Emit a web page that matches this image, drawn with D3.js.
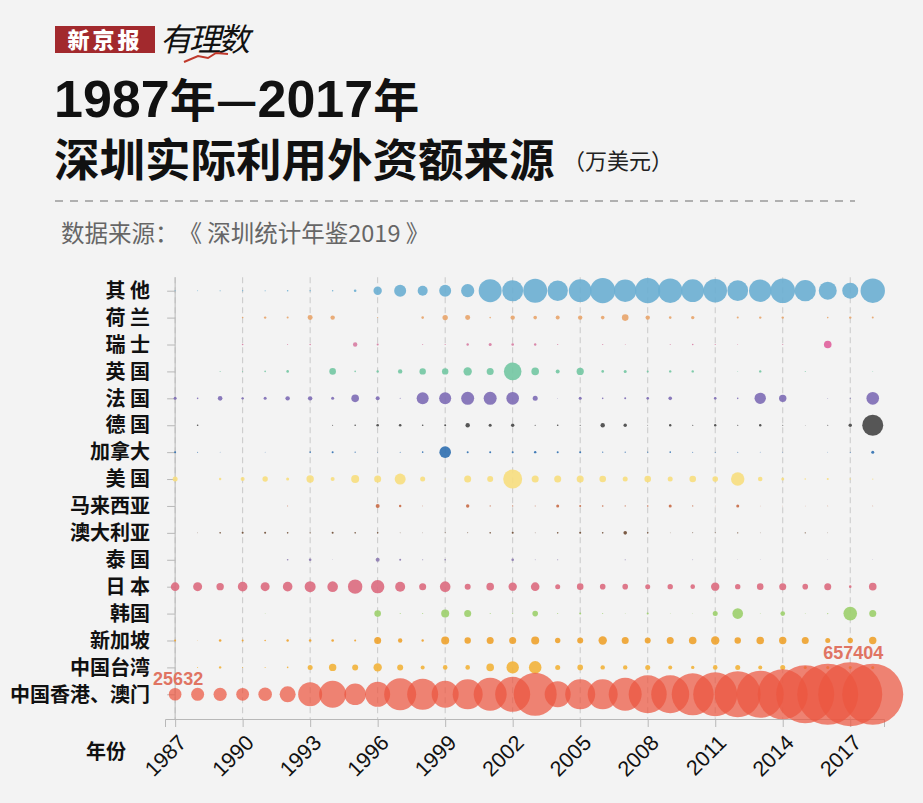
<!DOCTYPE html>
<html><head><meta charset="utf-8">
<script src="https://cdn.jsdelivr.net/npm/d3@7"></script>
<style>body{margin:0;background:#f3f3f3;} svg{display:block;} text{text-spacing-trim:space-all;}</style>
</head><body>
<script>
// ---------- DATA ----------
const years = [1987,1988,1989,1990,1991,1992,1993,1994,1995,1996,1997,1998,1999,2000,2001,2002,2003,2004,2005,2006,2007,2008,2009,2010,2011,2012,2013,2014,2015,2016,2017,2018];
const tickYears = [1987,1990,1993,1996,1999,2002,2005,2008,2011,2014,2017];
const categories = ["其 他","荷 兰","瑞 士","英 国","法 国","德 国","加拿大","美 国","马来西亚","澳大利亚","泰 国","日 本","韩国","新加坡","中国台湾","中国香港、澳门"];
const colors = ["#6aaed2","#e8a46a","#d77ca2","#72c6a2","#7d6bb5","#454545","#2f6fb0","#f7de7e","#c86a45","#6e4a32","#8c7ab0","#dc6a7e","#9ccf6c","#eea22c","#f2b23a","#ec5640"];
const vOther    = [200,150,200,250,200,400,300,350,1100,11300,23100,16100,23100,28000,84900,70800,92400,66800,83400,101900,80500,101900,95600,83400,89400,69400,80500,97100,72100,52000,41100,95600];
const vNL       = [0,0,0,410,920,640,4000,3100,0,160,0,1080,4680,4000,410,3100,2080,2570,3100,2080,7000,3100,1080,1860,0,640,920,920,0,410,920,640];
const vCH       = [0,0,0,410,0,160,410,0,3100,640,0,160,230,920,1445,1085,920,230,0,230,100,0,160,410,230,100,0,230,0,9270,0,0];
const vUK       = [0,0,160,160,410,1085,0,6990,410,924,3107,6574,6574,11325,7865,49720,9270,2568,8320,1085,1445,642,924,924,0,103,924,0,160,0,0,103];
const vFR       = [1445,411,3396,924,1445,3107,3107,1445,9270,2568,160,23110,23110,27120,27120,25480,4013,58,1445,411,642,1085,2080,0,1085,411,20860,8789,0,103,231,25480];
const vDE       = [0,411,0,0,0,0,0,160,411,1085,1085,411,642,3107,1445,1855,231,411,231,3107,1855,103,924,231,924,231,924,160,58,160,1855,70780];
const vCA       = [642,160,58,0,58,0,411,642,231,103,160,411,21600,642,642,642,924,642,642,231,231,231,411,160,160,160,103,103,0,58,160,1445];
const vUS       = [4013,0,924,2568,4680,1445,8789,2568,10272,7865,19420,4013,160,7865,5778,57940,7865,7865,7865,6991,4013,6991,4013,6991,5033,28820,3396,1445,411,642,411,231];
const vMY       = [0,0,0,0,0,160,0,0,0,2568,924,103,0,1855,231,231,160,1445,642,411,231,411,1445,231,58,1445,58,58,58,103,0,103];
const vAU       = [0,58,411,642,642,411,231,642,411,411,103,58,160,160,411,642,103,411,642,411,2080,411,58,160,160,231,58,0,231,58,0,0];
const vTH       = [0,0,0,0,0,411,1085,58,0,2568,642,160,411,0,0,1085,103,160,0,0,160,0,0,103,58,58,58,0,0,58,0,58];
const vJP       = [11870,13000,8789,14790,13000,14790,19420,18030,33280,28820,16050,7865,18030,5778,9270,11325,11870,4013,6991,5033,5033,4013,4680,3396,11325,4680,6991,7865,5033,7865,1085,9270];
const vKR       = [0,0,0,0,58,0,0,0,0,6991,160,160,10272,7865,160,160,5033,160,642,160,58,642,58,58,4013,18030,103,3396,103,231,29690,7865];
const vSG       = [642,58,1085,642,411,924,1085,1085,642,7865,3107,924,10272,6574,7865,7865,10272,4680,5778,11325,7865,5778,7865,9270,11325,6574,9270,8789,7865,4013,4680,8789];
const vTW       = [0,160,924,160,160,411,4013,8789,5778,11325,5778,2568,3396,3396,9270,24680,25480,4013,5033,3107,3107,4013,2568,1855,3396,4013,2568,4013,1445,1445,1445,1445];
const vHK       = [25632,27100,28000,26300,29700,41100,92400,117000,74900,100300,164300,154200,117000,144500,174800,196600,296800,108500,144500,144500,174800,231800,231800,283100,310700,339600,354500,401300,539900,597200,657404,597200];
const seriesValues = [vOther,vNL,vCH,vUK,vFR,vDE,vCA,vUS,vMY,vAU,vTH,vJP,vKR,vSG,vTW,vHK];
const labelled = [{cat:15, year:1987}, {cat:15, year:2017}];

// ---------- CHART ----------
const W = 923, H = 803;
const svg = d3.select("body").append("svg").attr("width", W).attr("height", H);
svg.append("rect").attr("width", W).attr("height", H).attr("fill", "#f3f3f3");

const CJK = "'Noto Sans CJK SC','Noto Sans',sans-serif";
const LAT = "'Liberation Sans',Arial,'Noto Sans CJK SC',sans-serif";

// logo
svg.append("rect").attr("x",55).attr("y",26).attr("width",100).attr("height",27).attr("fill","#a2292d");
svg.append("text").attr("x",105).attr("y",48).attr("text-anchor","middle").attr("fill","#fff")
  .style("font-family",CJK).style("font-weight",900).style("font-size","22px").style("letter-spacing","3px").text("新京报");
svg.append("text").attr("transform","translate(160,51) skewX(-14)").attr("fill","#111")
  .style("font-family",CJK).style("font-weight",400).style("font-size","32px").style("letter-spacing","-3px").text("有理数");
svg.append("path").attr("d","M184,62 L198,56 L208,58 L216,53 L228,54").attr("fill","none").attr("stroke","#c0392b").attr("stroke-width",2);

// title
const t1 = svg.append("text").attr("x",54).attr("y",117).attr("fill","#111").style("font-weight",700);
[["1987",LAT,52],["年",CJK,46],["—",CJK,46],["2017",LAT,52],["年",CJK,46]].forEach(([s,f,sz])=>{
  t1.append("tspan").style("font-family",f).style("font-size",sz+"px").text(s);
});
svg.append("text").attr("x",54).attr("y",177).attr("fill","#111").style("font-family",CJK)
  .style("font-weight",700).style("font-size","45.5px").text("深圳实际利用外资额来源");
svg.append("text").attr("x",563).attr("y",169).attr("fill","#222").style("font-family",CJK)
  .style("font-size","22px").text("（万美元）");
svg.append("line").attr("x1",55).attr("x2",855).attr("y1",201).attr("y2",201)
  .attr("stroke","#9a9a9a").attr("stroke-width",1.5).attr("stroke-dasharray","8,7");
svg.append("text").attr("x",61).attr("y",242).attr("fill","#666").style("font-family",CJK)
  .style("font-size","23.5px").text("数据来源：《 深圳统计年鉴2019 》");

// scales
const x = d3.scaleLinear().domain([1986.55, 2018.5]).range([165, 884]);
const y = d3.scalePoint().domain(categories).range([290.7, 694.3]);
const step = y.step();
const axisY = 719;
const r = d3.scaleSqrt().domain([0, d3.max(vHK)]).range([0, 32]);

// gridlines
svg.append("g").selectAll("line").data(tickYears).join("line")
  .attr("x1", d=>x(d)).attr("x2", d=>x(d)).attr("y1", y(categories[0]) - step/2).attr("y2", axisY)
  .attr("stroke","#c9c9c9").attr("stroke-width",1).attr("stroke-dasharray","6,4");

// x axis
const gx = svg.append("g").attr("transform",`translate(0,${axisY})`)
  .call(d3.axisBottom(x).tickValues(tickYears).tickFormat(d3.format("d")).tickSize(8).tickSizeOuter(8));
gx.selectAll("path,line").attr("stroke","#b8b8b8");
gx.selectAll("text").attr("fill","#111").style("font-family",LAT).style("font-size","21.5px")
  .attr("text-anchor","end").attr("dy",null).attr("y",null)
  .attr("transform","translate(12,25) rotate(-45)");

// y axis
const gy = svg.append("g").attr("transform",`translate(${x(1987)},0)`)
  .call(d3.axisLeft(y).tickSize(8).tickSizeOuter(0).tickFormat(""));
gy.select(".domain").remove();
gy.selectAll("line").attr("stroke","#b8b8b8");
svg.append("line").attr("x1",x(1987)).attr("x2",x(1987)).attr("y1",y(categories[0]) - step/2).attr("y2",axisY)
  .attr("stroke","#b8b8b8");
svg.append("g").selectAll("text").data(categories).join("text")
  .attr("x",150).attr("y",d=>y(d)).attr("dy","0.36em").attr("text-anchor","end").attr("fill","#111")
  .style("font-family",CJK).style("font-weight",700).style("font-size","20px").text(d=>d);
svg.append("text").attr("x",106).attr("y",752).attr("dy","0.36em").attr("text-anchor","middle").attr("fill","#111")
  .style("font-family",CJK).style("font-weight",700).style("font-size","20px").text("年份");

// bubbles
categories.forEach((c,i)=>{
  const vals = seriesValues[i];
  const isHK = i === categories.length - 1;
  svg.append("g").selectAll("circle").data(years.map((yr,j)=>({yr, v: vals[j]})).filter(d=>d.v>0)).join("circle")
    .attr("cx", d=>x(d.yr)).attr("cy", y(c)).attr("r", d=>r(d.v))
    .attr("fill", d => (c==="瑞 士" && d.yr===2016) ? "#e0609c" : colors[i])
    .attr("fill-opacity", isHK ? 0.72 : 0.9);
});

// value labels
svg.append("g").selectAll("text").data(labelled).join("text")
  .attr("x", d=>x(d.year) + 3)
  .attr("y", d=>{const j = years.indexOf(d.year); return y(categories[d.cat]) - r(seriesValues[d.cat][j]) - 3;})
  .attr("text-anchor","middle").attr("fill","#e07462")
  .style("font-family",LAT).style("font-weight",700).style("font-size","18px")
  .text(d=>seriesValues[d.cat][years.indexOf(d.year)]);
</script>
</body></html>
